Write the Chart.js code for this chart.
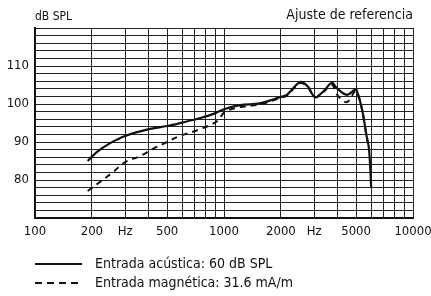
<!DOCTYPE html>
<html>
<head>
<meta charset="utf-8">
<script src="https://cdn.jsdelivr.net/npm/chart.js@4"></script>
<style>
  html, body { margin: 0; padding: 0; background: #fff; }
  #wrap { width: 431px; height: 296px; position: relative; }
</style>
</head>
<body>
<div id="wrap"><canvas id="grafico"></canvas></div>
<script>
// frecuencias y niveles
const freqAcustica = [190, 213, 250, 300, 400, 500, 600, 750, 880, 1010, 1220, 1550, 1980, 2150, 2530, 2780, 3030, 3400, 3720, 3950, 4470, 4930, 5040, 5370, 5680, 5850, 6010];
const dbAcustica   = [85, 87.4, 89.7, 91.6, 93.4, 94.2, 95.1, 96.3, 97.4, 98.7, 99.7, 100.2, 101.8, 102.4, 105.8, 104.6, 101.8, 103.6, 105.6, 104.2, 102.4, 103.8, 103.6, 98.7, 91.6, 88.2, 78];

const freqMagnetica = [190, 221, 259, 300, 360, 421, 500, 585, 750, 920, 1010, 1220, 1550, 1980, 2150, 2530, 2780, 3030, 3400, 3720, 4000, 4470, 4930, 5040, 5370, 5680, 5850];
const dbMagnetica   = [77.1, 79.5, 82.1, 84.7, 86.3, 88.2, 90, 91.6, 93.4, 95.5, 97.9, 99.2, 99.9, 101.6, 102.2, 105.5, 104.4, 101.7, 103.4, 105.1, 102.2, 100.5, 103.4, 103.4, 98.6, 91.6, 88.2];

const xTicks = [100, 200, 300, 400, 500, 600, 700, 800, 900, 1000, 2000, 3000, 4000, 5000, 6000, 7000, 8000, 9000, 10000];
const xEtiquetas = { 100: "100", 200: "200", 300: "Hz", 500: "500", 1000: "1000", 2000: "2000", 3000: "Hz", 5000: "5000", 10000: "10000" };
const yEtiquetas = [80, 90, 100, 110];

const leyenda = ["Entrada acústica: 60 dB SPL", "Entrada magnética: 31.6 mA/m"];
const tituloY = "dB SPL";
const tituloDer = "Ajuste de referencia";

const fuente = "'DejaVu Sans Condensed', 'Liberation Sans', Arial, sans-serif";

function puntos(xs, ys) {
  return xs.map((x, i) => ({ x: x, y: ys[i] }));
}

// textos y leyenda dibujados sobre el canvas
const extras = {
  id: "extras",
  afterDraw(chart) {
    const ctx = chart.ctx;
    const area = chart.chartArea;
    ctx.save();
    ctx.fillStyle = "#111";
    ctx.font = "12px " + fuente;
    ctx.textBaseline = "middle";
    ctx.textAlign = "left";
    ctx.fillText(tituloY, area.left, 17);
    ctx.font = "14px " + fuente;
    ctx.textAlign = "right";
    ctx.fillText(tituloDer, area.right, 15);

    ctx.font = "14px " + fuente;
    ctx.textAlign = "left";
    ctx.strokeStyle = "#111";
    ctx.lineWidth = 2.2;
    const filas = [264, 283];
    filas.forEach((y, i) => {
      ctx.setLineDash(i === 0 ? [] : [7, 5]);
      ctx.beginPath();
      ctx.moveTo(35, y);
      ctx.lineTo(82, y);
      ctx.stroke();
      ctx.fillText(leyenda[i], 95, y);
    });
    ctx.restore();
  }
};

new Chart(document.getElementById("grafico"), {
  type: "line",
  data: {
    datasets: [
      {
        label: leyenda[0],
        data: puntos(freqAcustica, dbAcustica),
        borderColor: "#111",
        borderWidth: 2.2,
        pointRadius: 0,
        tension: 0.35,
        fill: false
      },
      {
        label: leyenda[1],
        data: puntos(freqMagnetica, dbMagnetica),
        borderColor: "#111",
        borderWidth: 2,
        borderDash: [6, 5],
        pointRadius: 0,
        tension: 0.35,
        fill: false
      }
    ]
  },
  options: {
    responsive: true,
    maintainAspectRatio: false,
    animation: false,
    layout: { padding: { left: 0, right: 18, top: 28, bottom: 58 } },
    plugins: { legend: { display: false }, tooltip: { enabled: false } },
    scales: {
      x: {
        type: "logarithmic",
        min: 100,
        max: 10000,
        afterBuildTicks: (s) => { s.ticks = xTicks.map((v) => ({ value: v })); },
        afterFit: (s) => { s.height = 20; s.paddingRight = 0; s.paddingLeft = 0; },
        grid: { color: "#222", lineWidth: 1, drawTicks: false },
        border: { color: "#111", width: 2 },
        ticks: {
          autoSkip: false,
          maxRotation: 0,
          padding: 6,
          color: "#111",
          font: { family: fuente, size: 13 },
          callback: (v) => xEtiquetas[v] || ""
        }
      },
      y: {
        min: 70,
        max: 120,
        afterFit: (s) => { s.width = 35; },
        grid: { color: "#222", lineWidth: 1, drawTicks: false },
        border: { color: "#111", width: 2 },
        ticks: {
          stepSize: 2,
          autoSkip: false,
          padding: 6,
          color: "#111",
          font: { family: fuente, size: 13 },
          callback: (v) => (yEtiquetas.includes(v) ? String(v) : "")
        }
      }
    }
  },
  plugins: [extras]
});
</script>
</body>
</html>
